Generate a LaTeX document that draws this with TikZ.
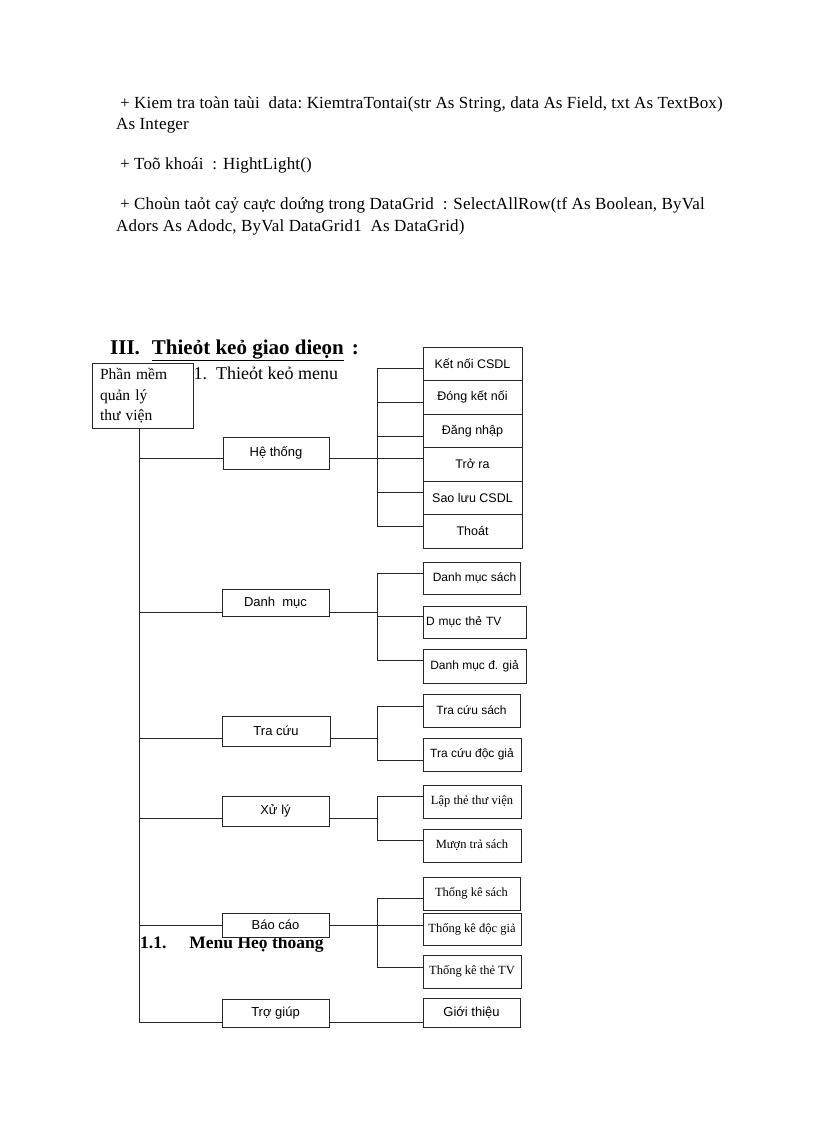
\documentclass[tikz,border=0pt]{standalone}
\usepackage{fontspec}
\setmainfont{Liberation Serif}
\newfontfamily\boxsans{Liberation Sans}
\newfontfamily\toptext[LetterSpace=1]{Liberation Serif}
\begin{document}
\begin{tikzpicture}[x=1pt,y=-1pt]
\tikzset{
  ln/.style={draw=black!85, line width=0.8pt},
  box/.style={draw=black!85, line width=0.8pt, fill=white, inner sep=0pt},
  sz/.style 2 args={minimum width=#1, minimum height=#2},
  fA/.style={font=\boxsans\fontsize{13}{15}\selectfont},
  fB/.style={font=\boxsans\fontsize{12.5}{15}\selectfont},
  fC/.style={font=\boxsans\fontsize{12}{14}\selectfont},
  fS/.style={font=\fontsize{12.5}{14}\selectfont},
  txt/.style={font=\toptext\fontsize{17}{19}\selectfont, anchor=base west, inner sep=0pt},
}
\useasboundingbox (0,0) rectangle (816,1123);
\fill[white] (0,0) rectangle (816,1123);

% top text
\node[txt] (p1) at (120,109) {+ Kiem tra toàn taùi\ \ data:\ KiemtraTontai(str As String, data As Field, txt As TextBox)};
\node[txt] (p2) at (116,130) {As Integer};
\node[txt] (p3) at (120,170) {+ Toõ khoái\ \ : HightLight()};
\node[txt] (p4) at (120,210) {+ Choùn taỏt caỷ caực doứng trong DataGrid\ \ : SelectAllRow(tf As Boolean, ByVal};
\node[txt] (p5) at (116,232) {Adors As Adodc, ByVal DataGrid1\ \ As DataGrid)};

% headings
\node[anchor=base west, inner sep=0pt, font=\bfseries\fontsize{21}{24}\selectfont] (t1) at (110,354) {III.\hspace{12pt}\underline{Thieỏt\ keỏ giao dieọn}\hspace{8pt}:};
\node[anchor=base west, inner sep=0pt, font=\fontsize{18}{20}\selectfont] (t2) at (180,379) {1.1.\hspace{9pt}Thieỏt keỏ menu};

% root
\node[box, sz={101pt}{65pt}, align=left, text width=85pt, font=\fontsize{15.5}{20.5}\selectfont] (root) at (142.5,396) {Phần mềm\\quản lý\\thư viện};

% trunk
\coordinate (tk1) at (139,1022);
\draw[ln] (tk1 |- root.south) -- (tk1);

% subheading (partly hidden by the Báo cáo box)
\node[anchor=base west, inner sep=0pt, font=\bfseries\fontsize{17.5}{19}\selectfont] (t3) at (140,948) {1.1.\hspace{23pt}Menu Heọ thoang};

% level 1
\node[box, sz={106pt}{32pt}, fA] (ht) at (276,453) {Hệ thống};
\node[box, sz={107pt}{27pt}, fA] (dm) at (275.5,602.5) {Danh\ \ mục};
\node[box, sz={108pt}{30pt}, fA] (tc) at (276,731) {Tra cứu};
\node[box, sz={107pt}{30pt}, fA] (xl) at (275.5,811) {Xử lý};
\node[box, sz={107pt}{24pt}, fA] (bc) at (275.5,925) {Báo cáo};
\node[box, sz={107pt}{28pt}, fA] (tg) at (275.5,1013) {Trợ giúp};

% group 1 children
\node[box, sz={99pt}{33.5pt}, fB] (k1) at (472.5,363.75) {Kết nối CSDL};
\node[box, sz={99pt}{33.5pt}, fB] (k2) at (472.5,397.25) {Đóng kết nối};
\node[box, sz={99pt}{33.5pt}, fB] (k3) at (472.5,430.75) {Đăng nhập};
\node[box, sz={99pt}{33.5pt}, fB] (k4) at (472.5,464.25) {Trở ra};
\node[box, sz={99pt}{33.5pt}, fB] (k5) at (472.5,497.75) {Sao lưu CSDL};
\node[box, sz={99pt}{33.5pt}, fB] (k6) at (472.5,531.25) {Thoát};

% group 2 children
\node[box, sz={97pt}{32pt}, fC] (d1) at (471.5,578) {\hspace{6pt}Danh mục sách};
\node[box, sz={103pt}{32pt}, fC, align=left, text width=97pt] (d2) at (474.5,622) {D mục thẻ TV};
\node[box, sz={103pt}{34pt}, fC] (d3) at (474.5,666) {Danh mục đ. giả};

% group 3 children
\node[box, sz={97pt}{33pt}, fC] (c1) at (471.5,710.5) {Tra cứu sách};
\node[box, sz={98pt}{33pt}, fC] (c2) at (472,754.5) {Tra cứu độc giả};

% group 4 children
\node[box, sz={98pt}{33pt}, fS] (x1) at (472,801.5) {Lập thẻ thư viện};
\node[box, sz={98pt}{33pt}, fS] (x2) at (472,845.5) {Mượn trả sách};

% group 5 children
\node[box, sz={97pt}{33pt}, fS] (s1) at (471.5,893.5) {Thống kê sách};
\node[box, sz={98pt}{32pt}, fS] (s2) at (472,929) {Thống kê độc giả};
\node[box, sz={98pt}{33pt}, fS] (s3) at (472,971.5) {Thống kê thẻ TV};

% group 6 child
\node[box, sz={97pt}{29pt}, fA] (g1) at (471.5,1012.5) {Giới thiệu};

% connectors group 1
\coordinate (m1) at (139,458);
\draw[ln] (m1) -- (m1 -| ht.west);
\draw[ln] (m1 -| ht.east) -- (m1 -| k4.west);
\coordinate (b1t) at (377,368);
\coordinate (b1b) at (377,526);
\draw[ln] (b1t) -- (b1b);
\coordinate (q2) at (377,402);
\coordinate (q3) at (377,436);
\coordinate (q5) at (377,492);
\draw[ln] (b1t) -- (b1t -| k1.west);
\draw[ln] (q2) -- (q2 -| k2.west);
\draw[ln] (q3) -- (q3 -| k3.west);
\draw[ln] (q5) -- (q5 -| k5.west);
\draw[ln] (b1b) -- (b1b -| k6.west);

% group 2
\coordinate (m2) at (139,612);
\coordinate (b2m) at (377,612);
\draw[ln] (m2) -- (m2 -| dm.west);
\draw[ln] (m2 -| dm.east) -- (b2m);
\coordinate (b2t) at (377,573);
\coordinate (b2c) at (377,616);
\coordinate (b2b) at (377,660);
\draw[ln] (b2t) -- (b2b);
\draw[ln] (b2t) -- (b2t -| d1.west);
\draw[ln] (b2c) -- (b2c -| d2.west);
\draw[ln] (b2b) -- (b2b -| d3.west);

% group 3
\coordinate (m3) at (139,738);
\coordinate (b3m) at (377,738);
\draw[ln] (m3) -- (m3 -| tc.west);
\draw[ln] (m3 -| tc.east) -- (b3m);
\coordinate (b3t) at (377,706);
\coordinate (b3b) at (377,760);
\draw[ln] (b3t) -- (b3b);
\draw[ln] (b3t) -- (b3t -| c1.west);
\draw[ln] (b3b) -- (b3b -| c2.west);

% group 4
\coordinate (m4) at (139,818);
\coordinate (b4m) at (377,818);
\draw[ln] (m4) -- (m4 -| xl.west);
\draw[ln] (m4 -| xl.east) -- (b4m);
\coordinate (b4t) at (377,796);
\coordinate (b4b) at (377,840);
\draw[ln] (b4t) -- (b4b);
\draw[ln] (b4t) -- (b4t -| x1.west);
\draw[ln] (b4b) -- (b4b -| x2.west);

% group 5
\coordinate (m5) at (139,925);
\draw[ln] (m5) -- (m5 -| bc.west);
\draw[ln] (m5 -| bc.east) -- (m5 -| s2.west);
\coordinate (b5t) at (377,898);
\coordinate (b5b) at (377,967);
\draw[ln] (b5t) -- (b5b);
\draw[ln] (b5t) -- (b5t -| s1.west);
\draw[ln] (b5b) -- (b5b -| s3.west);

% group 6
\draw[ln] (tk1) -- (tk1 -| tg.west);
\draw[ln] (tk1 -| tg.east) -- (tk1 -| g1.west);
\end{tikzpicture}
\end{document}
